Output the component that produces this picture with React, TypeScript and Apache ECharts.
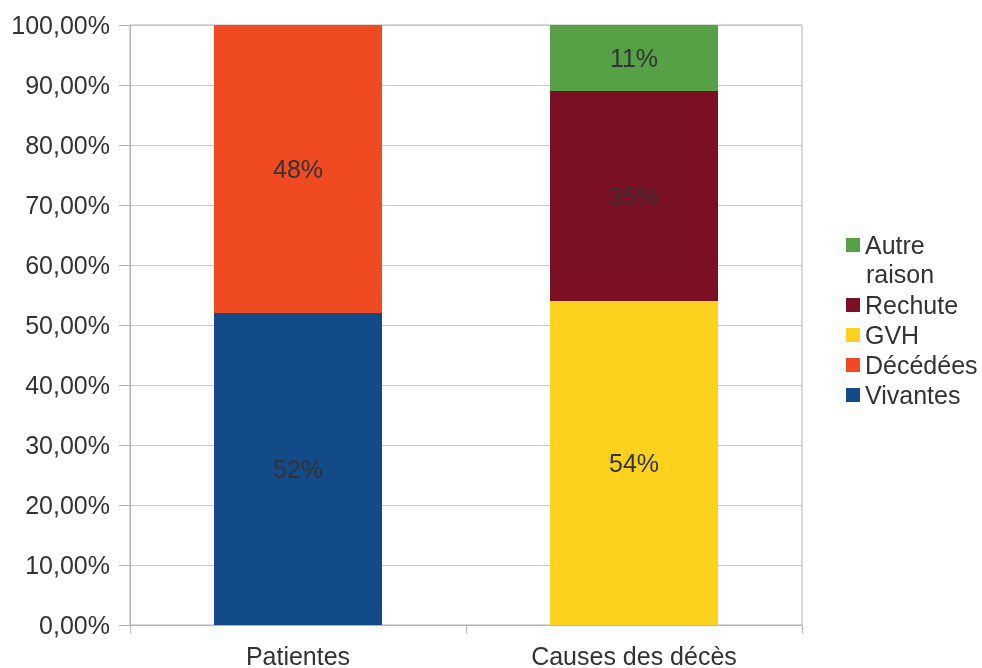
import React, { useEffect, useRef } from "react";
import * as echarts from "echarts";

const categories = ["Patientes", "Causes des décès"];
const vivantes = [52, null];
const decedees = [48, null];
const gvh = [null, 54];
const rechute = [null, 35];
const autre = [null, 11];
const yTicks = [0, 10, 20, 30, 40, 50, 60, 70, 80, 90, 100];

const FONT = "Liberation Sans, Arial, sans-serif";
const FS = 25;

export default function App() {
  const ref = useRef<HTMLDivElement>(null);
  useEffect(() => {
    if (!ref.current) return;
    const chart = echarts.init(ref.current, null, { renderer: "svg" });
    const label = {
      show: true,
      position: "inside" as const,
      formatter: (p: any) => `${p.value}%`,
      color: "#333333",
      fontSize: FS,
      fontFamily: FONT,
    };
    const mk = (name: string, data: any[], color: string) => ({
      name,
      type: "bar",
      stack: "s",
      data: data.map((v) => (v === null ? "-" : v)),
      barWidth: "50%",
      itemStyle: { color },
      label,
    });
    const legendText = { fontSize: FS, lineHeight: 30, color: "#333333", fontFamily: FONT };
    chart.setOption({
      animation: false,
      textStyle: { fontFamily: FONT },
      grid: {
        left: 130,
        right: 180,
        top: 25,
        bottom: 43,
        show: true,
        borderColor: "#b3b3b3",
        borderWidth: 1,
      },
      xAxis: {
        type: "category",
        data: categories,
        axisLine: { lineStyle: { color: "#b3b3b3" } },
        axisTick: { show: true, length: 8, lineStyle: { color: "#b3b3b3" } },
        axisLabel: { color: "#333333", fontSize: FS, fontFamily: FONT, margin: 18 },
      },
      yAxis: {
        type: "value",
        min: yTicks[0],
        max: yTicks[yTicks.length - 1],
        interval: 10,
        axisLine: { show: true, lineStyle: { color: "#b3b3b3" } },
        axisTick: { show: true, length: 11, lineStyle: { color: "#b3b3b3" } },
        splitLine: { lineStyle: { color: "#c8c8c8" } },
        axisLabel: {
          color: "#333333",
          fontSize: FS,
          fontFamily: FONT,
          margin: 20,
          formatter: (v: number) => v.toFixed(2).replace(".", ",") + "%",
        },
      },
      legend: [
        {
          orient: "vertical",
          left: 841,
          top: 225,
          itemWidth: 14,
          itemHeight: 14,
          itemGap: 0,
          icon: "rect",
          data: ["Autre raison"],
          formatter: () => "Autre",
          textStyle: legendText,
        },
        {
          orient: "vertical",
          left: 841,
          top: 285,
          itemWidth: 14,
          itemHeight: 14,
          itemGap: 0,
          icon: "rect",
          data: ["Rechute", "GVH", "Décédées", "Vivantes"],
          textStyle: legendText,
        },
      ],
      graphic: [
        {
          type: "text",
          left: 866,
          top: 261,
          style: { text: "raison", fontSize: FS, fill: "#333333", fontFamily: FONT },
        },
      ],
      series: [
        mk("Vivantes", vivantes, "#134a88"),
        mk("Décédées", decedees, "#f04a23"),
        mk("GVH", gvh, "#fcd21f"),
        mk("Rechute", rechute, "#7b1024"),
        mk("Autre raison", autre, "#56a046"),
      ],
    });
    return () => chart.dispose();
  }, []);
  return (
    <div
      ref={ref}
      style={{ position: "fixed", left: 0, top: 0, width: 982, height: 668 }}
    />
  );
}
